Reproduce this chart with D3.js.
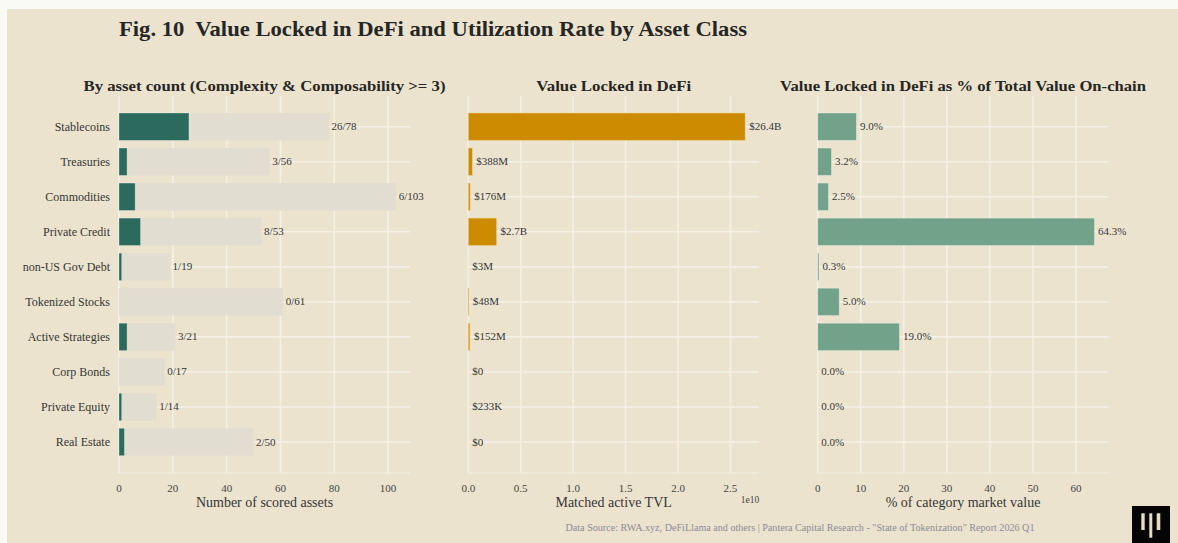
<!DOCTYPE html>
<html><head><meta charset="utf-8">
<script src="https://cdn.jsdelivr.net/npm/d3@7"></script>
<style>
html,body{margin:0;padding:0;background:#f9f9f5;}
svg{display:block;}
text{font-family:"Liberation Serif","DejaVu Serif",serif;}
</style></head><body>
<svg id="chart" width="1178" height="543"></svg>
<script>
const categories = ["Stablecoins","Treasuries","Commodities","Private Credit","non-US Gov Debt","Tokenized Stocks","Active Strategies","Corp Bonds","Private Equity","Real Estate"];
const scoredCount = [26,3,6,8,1,0,3,0,1,2];
const totalCount = [78,56,103,53,19,61,21,17,14,50];
const tvl = [26.4e9,388e6,176e6,2.7e9,3e6,48e6,152e6,0,233e3,0];
const tvlLabels = ["$26.4B","$388M","$176M","$2.7B","$3M","$48M","$152M","$0","$233K","$0"];
const pctOnchain = [9.0,3.2,2.5,64.3,0.3,5.0,19.0,0.0,0.0,0.0];
const ticks1 = [0,20,40,60,80,100];
const ticks2 = [0,0.5e10,1.0e10,1.5e10,2.0e10,2.5e10];
const ticks2Labels = ["0.0","0.5","1.0","1.5","2.0","2.5"];
const ticks3 = [0,10,20,30,40,50,60];

const svg = d3.select("#chart");
const BG = "#ebe3cd";
svg.append("rect").attr("x",7).attr("y",9).attr("width",1171).attr("height",534).attr("fill",BG);

const plotTop = 96, plotBottom = 473;
const y = d3.scalePoint().domain(categories).range([126.7, 442]);
const bh = 27.4;
const grid = "#f4f0e6";
const txt = "#363636";

// Title
svg.append("text").attr("x",119).attr("y",36).attr("font-size",22).attr("font-weight","bold")
  .attr("fill","#262626").attr("textLength",628).attr("lengthAdjust","spacingAndGlyphs")
  .style("white-space","pre")
  .text("Fig. 10  Value Locked in DeFi and Utilization Rate by Asset Class");

function panel(x0, x1, domainMax, ticks, tickLabels, subtitle, subW, xlabel) {
  const x = d3.scaleLinear().domain([0, domainMax]).range([x0, x1]);
  const g = svg.append("g");
  g.selectAll(".vg").data(ticks).enter().append("line")
    .attr("x1",d=>x(d)).attr("x2",d=>x(d)).attr("y1",plotTop).attr("y2",plotBottom)
    .attr("stroke",grid).attr("stroke-width",1.6);
  g.selectAll(".hg").data(categories).enter().append("line")
    .attr("x1",x0).attr("x2",x1).attr("y1",d=>y(d)).attr("y2",d=>y(d))
    .attr("stroke",grid).attr("stroke-width",1.6);
  g.append("line").attr("x1",x0).attr("x2",x1).attr("y1",plotBottom).attr("y2",plotBottom)
    .attr("stroke",grid).attr("stroke-width",1);
  svg.append("text").attr("x",(x0+x1)/2).attr("y",91).attr("text-anchor","middle")
    .attr("font-size",15).attr("font-weight","bold").attr("fill","#262626")
    .attr("textLength",subW).attr("lengthAdjust","spacingAndGlyphs").text(subtitle);
  svg.selectAll(null).data(ticks).enter().append("text")
    .attr("x",d=>x(d)).attr("y",492).attr("text-anchor","middle").attr("font-size",11)
    .attr("fill","#444").text((d,i)=>tickLabels ? tickLabels[i] : d);
  svg.append("text").attr("x",(x0+x1)/2).attr("y",507).attr("text-anchor","middle")
    .attr("font-size",14).attr("fill",txt).text(xlabel);
  return {x, g};
}

// Panel 1
const p1 = panel(119, 410, 103*1.05, ticks1, null, "By asset count (Complexity & Composability >= 3)", 362, "Number of scored assets");
p1.g.selectAll(".tot").data(categories).enter().append("rect")
  .attr("x",p1.x(0)).attr("y",d=>y(d)-bh/2).attr("height",bh)
  .attr("width",(d,i)=>p1.x(totalCount[i])-p1.x(0)).attr("fill","#e1ddd0");
p1.g.selectAll(".sc").data(categories).enter().append("rect")
  .attr("x",p1.x(0)).attr("y",d=>y(d)-bh/2).attr("height",bh)
  .attr("width",(d,i)=>p1.x(scoredCount[i])-p1.x(0)).attr("fill","#2c6a5d")
  .attr("stroke","#ffffff").attr("stroke-opacity",0.35).attr("stroke-width",(d,i)=>scoredCount[i]>0?0.8:0);
svg.selectAll(null).data(categories).enter().append("text")
  .attr("x",(d,i)=>p1.x(totalCount[i])+2.5).attr("y",d=>y(d)+3.5).attr("font-size",11)
  .attr("fill",txt).text((d,i)=>scoredCount[i]+"/"+totalCount[i]);
svg.selectAll(null).data(categories).enter().append("text")
  .attr("x",110).attr("y",d=>y(d)+4).attr("text-anchor","end").attr("font-size",12)
  .attr("fill",txt).text(d=>d);

// Panel 2
const p2 = panel(468.3, 759, 26.4e9*1.05, ticks2, ticks2Labels, "Value Locked in DeFi", 155, "Matched active TVL");
p2.g.selectAll(".tv").data(categories).enter().append("rect")
  .attr("x",p2.x(0)).attr("y",d=>y(d)-bh/2).attr("height",bh)
  .attr("width",(d,i)=>p2.x(tvl[i])-p2.x(0)).attr("fill","#cc8b00")
  .attr("stroke","#f0d79a").attr("stroke-opacity",0.6).attr("stroke-width",(d,i)=>tvl[i]>1e8?0.8:0);
svg.selectAll(null).data(categories).enter().append("text")
  .attr("x",(d,i)=>p2.x(tvl[i])+4).attr("y",d=>y(d)+3.5).attr("font-size",11)
  .attr("fill",txt).text((d,i)=>tvlLabels[i]);
svg.append("text").attr("x",750).attr("y",503).attr("text-anchor","middle").attr("font-size",9.5)
  .attr("fill","#444").text("1e10");

// Panel 3
const p3 = panel(817.7, 1108.3, 64.3*1.05, ticks3, null, "Value Locked in DeFi as % of Total Value On-chain", 366, "% of category market value");
p3.g.selectAll(".pc").data(categories).enter().append("rect")
  .attr("x",p3.x(0)).attr("y",d=>y(d)-bh/2).attr("height",bh)
  .attr("width",(d,i)=>p3.x(pctOnchain[i])-p3.x(0)).attr("fill","#72a38a")
  .attr("stroke","#ffffff").attr("stroke-opacity",0.4).attr("stroke-width",(d,i)=>pctOnchain[i]>0?0.8:0);
svg.selectAll(null).data(categories).enter().append("text")
  .attr("x",(d,i)=>p3.x(pctOnchain[i])+3.5).attr("y",d=>y(d)+3.5).attr("font-size",11)
  .attr("fill",txt).text((d,i)=>pctOnchain[i].toFixed(1)+"%");

// Footer
svg.append("text").attr("x",800).attr("y",531).attr("text-anchor","middle").attr("font-size",9.5)
  .attr("fill","#8a8b98").attr("textLength",469).attr("lengthAdjust","spacingAndGlyphs")
  .text('Data Source: RWA.xyz, DeFiLlama and others | Pantera Capital Research - "State of Tokenization" Report 2026 Q1');

// Logo
const logo = svg.append("g");
logo.append("rect").attr("x",1132).attr("y",506).attr("width",38).attr("height",37).attr("fill","#050505");
logo.append("rect").attr("x",1141.3).attr("y",513.3).attr("width",3.4).attr("height",16.7).attr("fill","#e8dcc0");
logo.append("rect").attr("x",1149.3).attr("y",513.3).attr("width",3).attr("height",24.4).attr("fill","#e8dcc0");
logo.append("rect").attr("x",1156.7).attr("y",513.3).attr("width",3.6).attr("height",16.7).attr("fill","#e8dcc0");
</script>
</body></html>
